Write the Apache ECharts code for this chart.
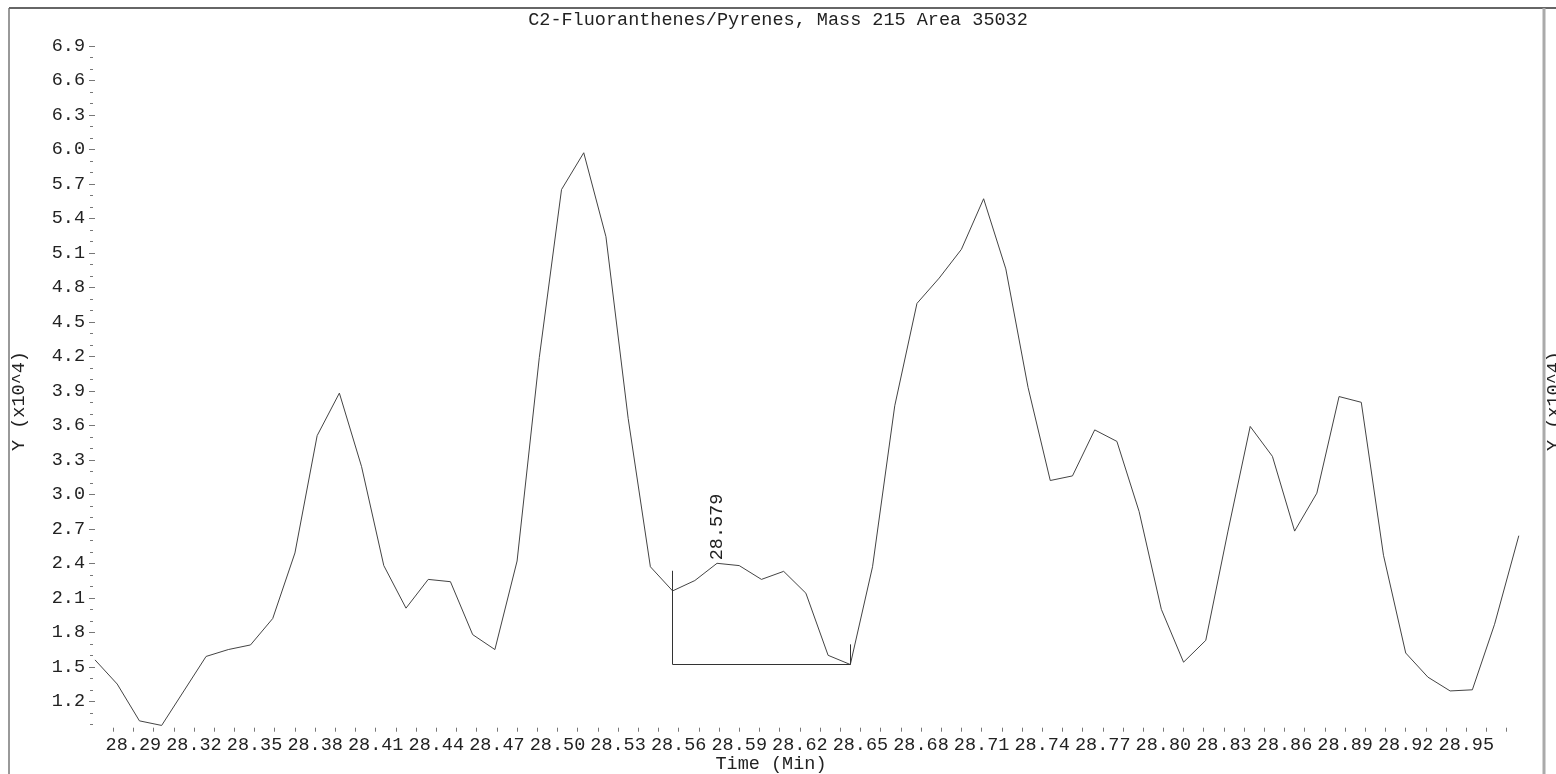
<!DOCTYPE html>
<html>
<head>
<meta charset="utf-8">
<title>C2-Fluoranthenes/Pyrenes, Mass 215</title>
<script src="https://cdn.jsdelivr.net/npm/echarts@6.0.0/dist/echarts.min.js"></script>
<style>
  html, body { margin: 0; padding: 0; background: #fff; }
  #chart { width: 1556px; height: 774px; }
</style>
</head>
<body>
<div id="chart"></div>
<script>
// retention time (min) of each scan
const times = [
  28.271, 28.282, 28.293, 28.304, 28.315, 28.326, 28.337, 28.348, 28.359, 28.370,
  28.381, 28.392, 28.403, 28.414, 28.425, 28.436, 28.447, 28.458, 28.469, 28.480,
  28.491, 28.502, 28.513, 28.524, 28.535, 28.546, 28.557, 28.568, 28.579, 28.590,
  28.601, 28.612, 28.623, 28.634, 28.645, 28.656, 28.667, 28.678, 28.689, 28.700,
  28.711, 28.722, 28.733, 28.744, 28.755, 28.766, 28.777, 28.788, 28.799, 28.810,
  28.821, 28.832, 28.843, 28.854, 28.865, 28.876, 28.887, 28.898, 28.909, 28.920,
  28.931, 28.942, 28.953, 28.964, 28.976
];
// ion abundance, x10^4
const signal = [
  1.56, 1.35, 1.03, 0.99, 1.29, 1.59, 1.65, 1.69, 1.92, 2.49,
  3.51, 3.88, 3.24, 2.38, 2.01, 2.26, 2.24, 1.78, 1.65, 2.42,
  4.19, 5.65, 5.97, 5.24, 3.66, 2.37, 2.16, 2.25, 2.40, 2.38,
  2.26, 2.33, 2.14, 1.60, 1.52, 2.37, 3.77, 4.66, 4.88, 5.13,
  5.57, 4.96, 3.93, 3.12, 3.16, 3.56, 3.46, 2.85, 2.00, 1.54,
  1.73, 2.68, 3.59, 3.33, 2.68, 3.01, 3.85, 3.80, 2.47, 1.62,
  1.41, 1.29, 1.30, 1.87, 2.64
];
const xTickLabels = ['28.29','28.32','28.35','28.38','28.41','28.44','28.47','28.50','28.53','28.56',
  '28.59','28.62','28.65','28.68','28.71','28.74','28.77','28.80','28.83','28.86','28.89','28.92','28.95'];
const yTickLabels = ['1.2','1.5','1.8','2.1','2.4','2.7','3.0','3.3','3.6','3.9','4.2','4.5',
  '4.8','5.1','5.4','5.7','6.0','6.3','6.6','6.9'];
// integrated peak window (scan indices)
const intStart = 26, intEnd = 34;

const FONT = "'Liberation Mono', 'DejaVu Sans Mono', monospace";
const FS = 18.5;
const TXT = '#222';
const TICK = '#777';

// minor ticks every 0.01 min / 0.1 units
const xMinor = [];
for (let k = 2828; k <= 2897; k++) xMinor.push(k / 100);
const yMinor = [];
for (let k = 10; k <= 68; k++) yMinor.push(k / 10);
const xMajor = xTickLabels.map(Number);
const yMajor = yTickLabels.map(Number);

// apex inside the integration window gets the retention time label
let apex = intStart;
for (let i = intStart; i <= intEnd; i++) if (signal[i] > signal[apex]) apex = i;

const lineData = times.map((t, i) => {
  const item = { value: [t, signal[i]] };
  if (i === apex) {
    item.label = {
      show: true, rotate: 90, position: 'top', distance: 3,
      align: 'left', verticalAlign: 'middle',
      formatter: () => times[apex].toFixed(3),
      fontFamily: FONT, fontSize: FS, color: TXT
    };
  }
  return item;
});

const base = signal[intEnd];
const mark = 0.175; // height of the start/stop marks above the trace
const integration = [
  [{ coord: [times[intStart], base] }, { coord: [times[intStart], signal[intStart] + mark] }],
  [{ coord: [times[intStart], base] }, { coord: [times[intEnd], base] }],
  [{ coord: [times[intEnd], base] }, { coord: [times[intEnd], signal[intEnd] + mark] }]
];

const chart = echarts.init(document.getElementById('chart'), null, { renderer: 'canvas' });

const xBase = {
  type: 'value', min: 'dataMin', max: 'dataMax', position: 'bottom', offset: 3.4,
  axisLine: { show: false }, splitLine: { show: false }
};
const yBase = {
  type: 'value', min: 1.0, max: 6.9, position: 'left',
  axisLine: { show: false }, splitLine: { show: false }
};

chart.setOption({
  animation: false,
  backgroundColor: '#fff',
  title: {
    text: 'C2-Fluoranthenes/Pyrenes, Mass 215 Area 35032',
    left: 'center', top: 11, padding: 0,
    textStyle: { fontFamily: FONT, fontSize: FS, fontWeight: 'normal', color: TXT, lineHeight: 18 }
  },
  grid: { left: 95, right: 37.2, top: 45.8, bottom: 49.7 },
  xAxis: [
    Object.assign({}, xBase, {
      axisTick: { show: true, customValues: xMinor, length: 4, lineStyle: { color: TICK } },
      axisLabel: {
        customValues: xMajor, margin: 9, formatter: v => v.toFixed(2),
        fontFamily: FONT, fontSize: FS, color: TXT, lineHeight: 17
      }
    }),
    Object.assign({}, xBase, {
      axisTick: { show: true, customValues: xMajor, length: 7, lineStyle: { color: TICK } },
      axisLabel: { show: false, customValues: xMajor }
    })
  ],
  yAxis: [
    Object.assign({}, yBase, {
      axisTick: { show: true, customValues: yMajor, length: 6, lineStyle: { color: TICK } },
      axisLabel: {
        customValues: yMajor, margin: 10, formatter: v => v.toFixed(1),
        fontFamily: FONT, fontSize: FS, color: TXT
      }
    }),
    Object.assign({}, yBase, {
      offset: 2,
      axisTick: { show: true, customValues: yMinor, length: 3, lineStyle: { color: TICK } },
      axisLabel: { show: false, customValues: yMinor }
    })
  ],
  series: [{
    type: 'line',
    xAxisIndex: 0, yAxisIndex: 0,
    data: lineData,
    clip: false,
    showSymbol: true, symbol: 'circle', symbolSize: 0,
    lineStyle: { color: '#444', width: 1 },
    itemStyle: { color: '#444' },
    label: { show: false },
    emphasis: { disabled: true },
    markLine: {
      silent: true, symbol: ['none', 'none'],
      label: { show: false },
      lineStyle: { color: '#333', width: 1, type: 'solid' },
      data: integration
    }
  }],
  graphic: [
    { type: 'line', shape: { x1: 9, y1: 8, x2: 9, y2: 774 }, style: { stroke: '#999', lineWidth: 2 } },
    { type: 'line', shape: { x1: 9, y1: 8, x2: 1556, y2: 8 }, style: { stroke: '#666', lineWidth: 2 } },
    { type: 'line', shape: { x1: 1544, y1: 8, x2: 1544, y2: 774 }, style: { stroke: '#aaa', lineWidth: 3 } },
    { type: 'text', x: 19.5, y: 401, rotation: Math.PI / 2,
      style: { text: 'Y (x10^4)', font: FS + 'px ' + FONT, fill: TXT, align: 'center', verticalAlign: 'middle' } },
    { type: 'text', x: 1554, y: 401, rotation: Math.PI / 2,
      style: { text: 'Y (x10^4)', font: FS + 'px ' + FONT, fill: TXT, align: 'center', verticalAlign: 'middle' } },
    { type: 'text', x: 771, y: 764.5,
      style: { text: 'Time (Min)', font: FS + 'px ' + FONT, fill: TXT, align: 'center', verticalAlign: 'middle' } }
  ]
});
</script>
</body>
</html>
